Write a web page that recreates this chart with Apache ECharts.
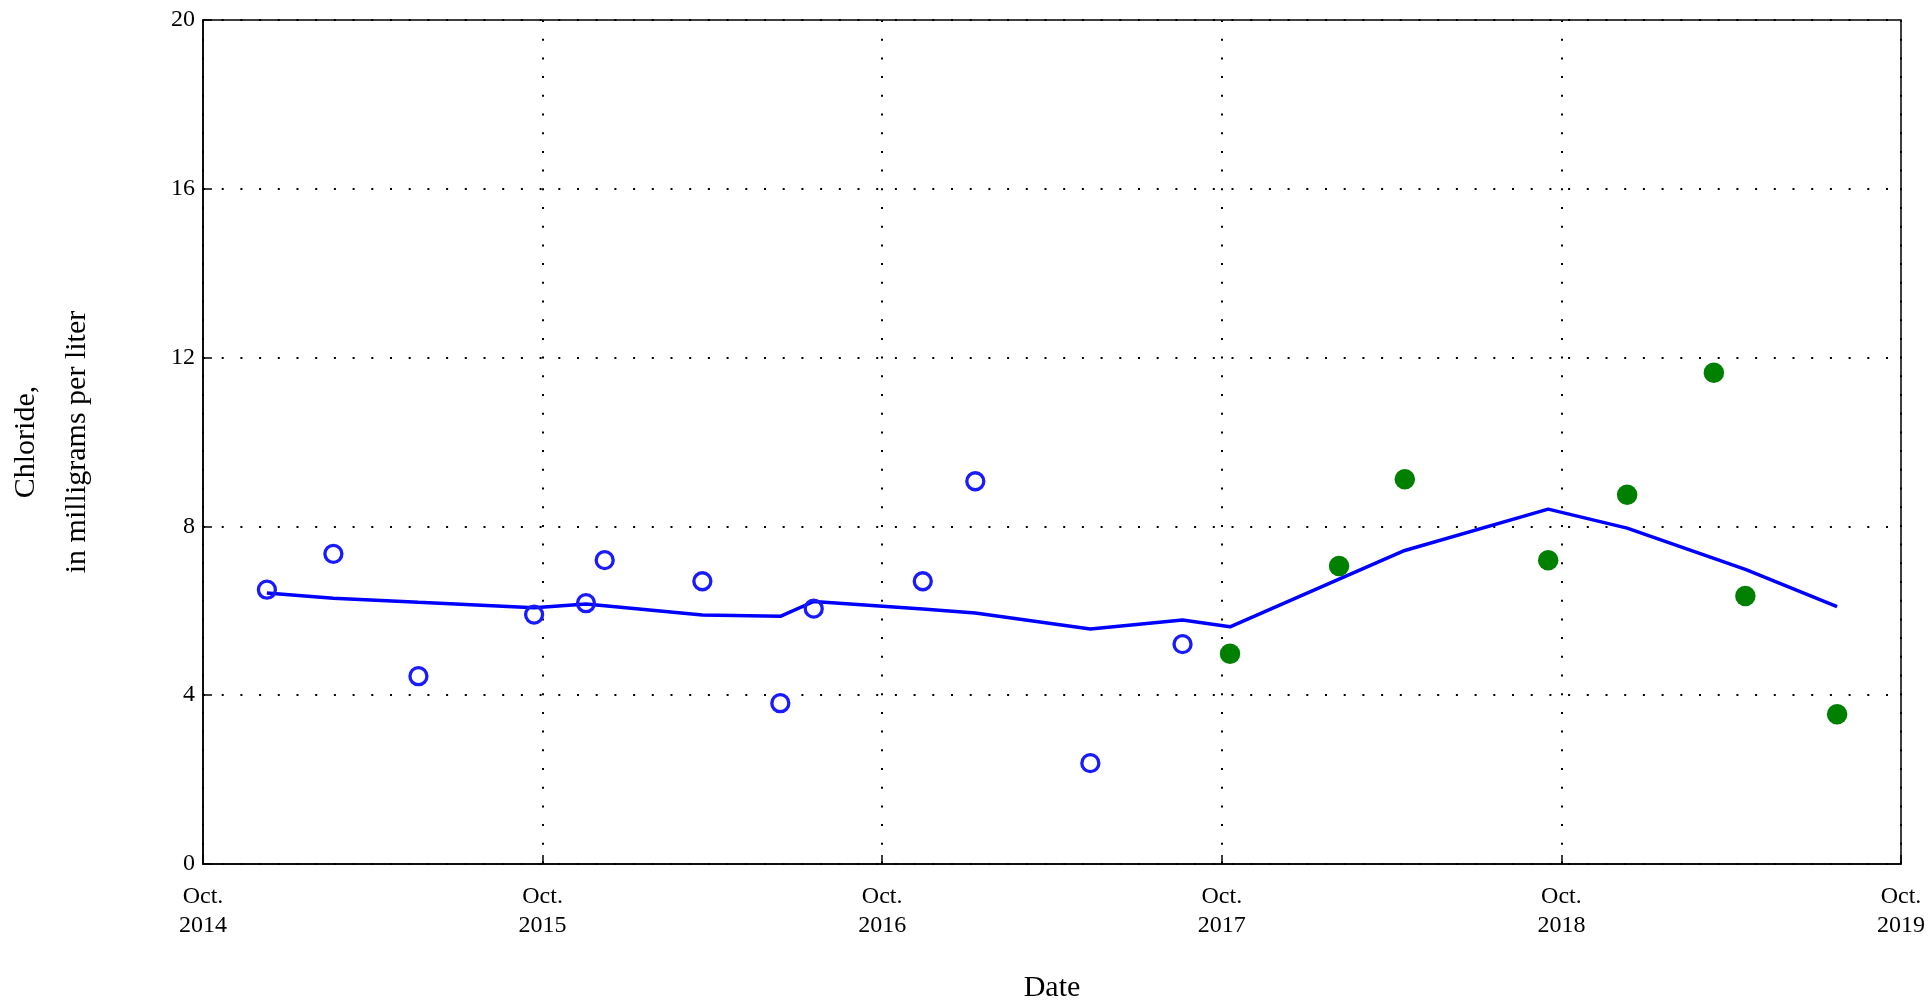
<!DOCTYPE html>
<html>
<head>
<meta charset="utf-8">
<script src="https://cdn.jsdelivr.net/npm/echarts@6/dist/echarts.min.js"></script>
<style>
html,body{margin:0;padding:0;background:#fff;}
#chart{width:1932px;height:1006px;}
</style>
</head>
<body>
<div id="chart"></div>
<script>
// ---- data ----
const blueDates = ['2014-12-09','2015-02-18','2015-05-20','2015-09-22','2015-11-17','2015-12-07','2016-03-21','2016-06-13','2016-07-19','2016-11-14','2017-01-10','2017-05-12','2017-08-20'];
const blueValues = [6.50, 7.35, 4.45, 5.91, 6.18, 7.20, 6.70, 3.81, 6.05, 6.70, 9.07, 2.39, 5.21];
const greenDates = ['2017-10-10','2018-02-05','2018-04-15','2018-09-17','2018-12-11','2019-03-13','2019-04-16','2019-07-24'];
const greenValues = [4.98, 7.06, 9.12, 7.20, 8.75, 11.64, 6.35, 3.55];
const trendDates = blueDates.concat(greenDates);
const trendValues = [6.42, 6.30, 6.20, 6.07, 6.16, 6.12, 5.90, 5.87, 6.22, 6.04, 5.95, 5.57, 5.78, 5.62, 6.75, 7.43, 8.41, 7.96, 7.24, 6.98, 6.10];
const xStartYear = 2014;           // axis starts Oct. 2014
const xTickYears = [2014, 2015, 2016, 2017, 2018, 2019];
const yTicks = [0, 4, 8, 12, 16, 20];
const xTitle = 'Date';
const yTitle = 'Chloride,\nin milligrams per liter';

// months elapsed since Oct. 1 of the start year
function monthsSinceStart(s) {
  const p = s.split('-').map(Number);
  const dim = new Date(Date.UTC(p[0], p[1], 0)).getUTCDate();
  return (p[0] - xStartYear) * 12 + (p[1] - 10) + (p[2] - 1) / dim;
}
const pairs = (ds, vs) => ds.map((d, i) => [monthsSinceStart(d), vs[i]]);

const FONT = '"Liberation Serif", "Times New Roman", serif';
const dotted = { color: '#000', width: 2, type: [2, 16.7] };

const chart = echarts.init(document.getElementById('chart'));
chart.setOption({
  animation: false,
  backgroundColor: '#fff',
  grid: {
    left: 203, right: 31, top: 20, bottom: 142,
    containLabel: false, outerBoundsMode: 'none',
    show: true, borderColor: '#000', borderWidth: 1.5, backgroundColor: 'transparent'
  },
  xAxis: {
    type: 'value',
    min: 0,
    max: (xTickYears[xTickYears.length - 1] - xStartYear) * 12,
    interval: 12,
    name: xTitle,
    nameLocation: 'middle',
    nameGap: 109,
    nameTextStyle: { fontFamily: FONT, fontSize: 30, color: '#000' },
    axisLine: { show: true, onZero: false, lineStyle: { color: '#000', width: 1.5 } },
    axisTick: { show: true, inside: true, length: 9, lineStyle: { color: '#000', width: 1.5 } },
    axisLabel: {
      fontFamily: FONT, fontSize: 24, color: '#000', lineHeight: 29, margin: 18,
      formatter: v => 'Oct.\n' + (xStartYear + Math.round(v / 12))
    },
    splitLine: { show: true, lineStyle: dotted }
  },
  yAxis: {
    type: 'value',
    min: yTicks[0],
    max: yTicks[yTicks.length - 1],
    interval: 4,
    name: yTitle,
    nameLocation: 'middle',
    nameGap: 100,
    nameTextStyle: { fontFamily: FONT, fontSize: 30, color: '#000', lineHeight: 51, align: 'center' },
    axisLine: { show: true, lineStyle: { color: '#000', width: 1.5 } },
    axisTick: { show: true, inside: true, length: 9, lineStyle: { color: '#000', width: 1.5 } },
    axisLabel: { fontFamily: FONT, fontSize: 24, color: '#000', margin: 8 },
    splitLine: { show: true, lineStyle: dotted }
  },
  series: [
    {
      type: 'line',
      data: pairs(trendDates, trendValues),
      showSymbol: false,
      symbol: 'none',
      lineStyle: { color: '#0000ff', width: 3.5 },
      z: 2
    },
    {
      type: 'scatter',
      data: pairs(blueDates, blueValues),
      symbol: 'circle',
      symbolSize: 17,
      itemStyle: { color: 'rgba(0,0,0,0)', borderColor: '#1a1aff', borderWidth: 3.3, opacity: 1 },
      z: 3
    },
    {
      type: 'scatter',
      data: pairs(greenDates, greenValues),
      symbol: 'circle',
      symbolSize: 20.5,
      itemStyle: { color: '#008000', opacity: 1 },
      z: 3
    }
  ]
});
</script>
</body>
</html>
